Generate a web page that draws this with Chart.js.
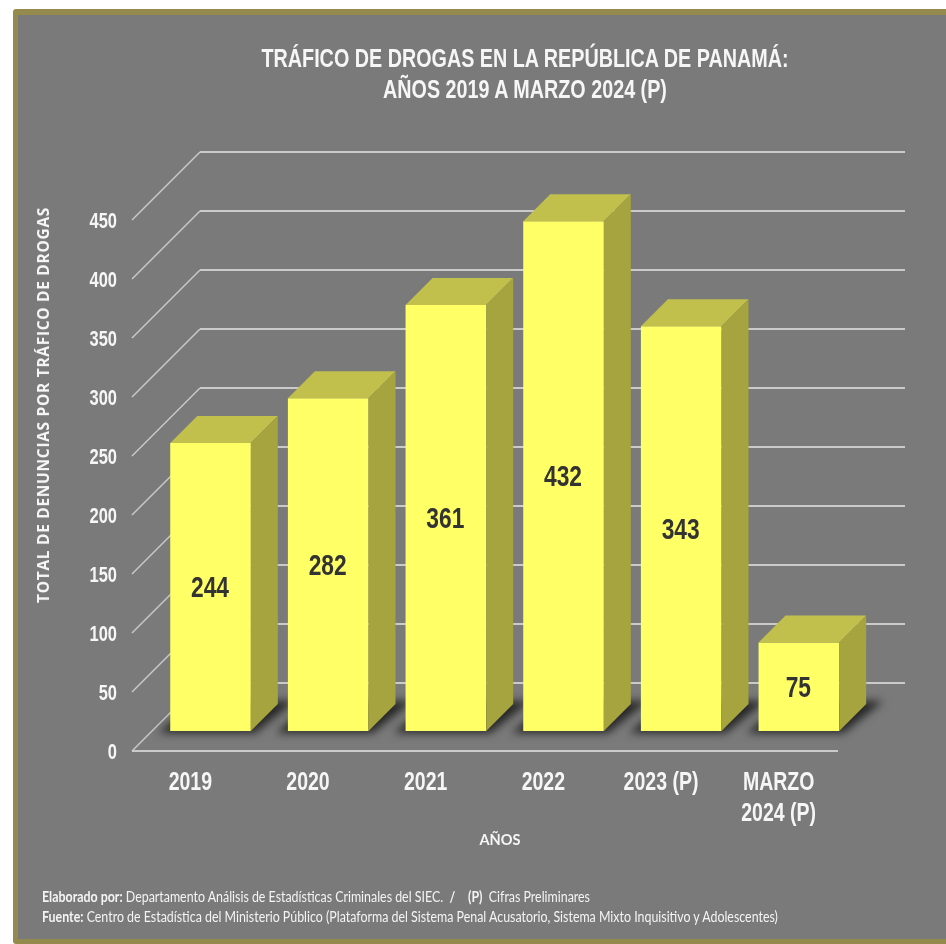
<!DOCTYPE html>
<html lang="es">
<head>
<meta charset="utf-8">
<title>Tráfico de drogas</title>
<script src="https://cdn.jsdelivr.net/npm/chart.js@4"></script>
<style>
    html, body { margin: 0; background: #fff; }
    #page { position: relative; width: 946px; height: 944px; overflow: hidden; }
    #panel { position: absolute; left: 13px; top: 9px; width: 960px; height: 924px; background: #7a7a7b; border: solid #958a4e; border-width: 6px 5px 5px 5px; border-radius: 3px; }
    canvas { position: absolute; left: 0; top: 0; }
    .txt { position: absolute; color: #f6f6f6; white-space: nowrap; }
    #title { left: 125px; width: 800px; top: 43px; text-align: center; font: bold 25px/31px "Liberation Sans", sans-serif; transform: scaleX(0.79); }
    #yTitle { left: 43px; top: 405px; transform: translate(-50%, -50%) rotate(-90deg); font: bold 15.5px "Open Sans", sans-serif; letter-spacing: 0.7px; }
    #xTitle { left: 500px; top: 839px; transform: translate(-50%, -50%) scaleX(0.97); font: bold 15px Lato, sans-serif; }
    .foot { left: 42px; font: 14.5px Lato, sans-serif; color: #f4f4f4; transform: scaleX(0.855); transform-origin: left center; }
    .foot b { font-weight: bold; }
</style>
</head>
<body>
<div id="page">
    <div id="panel"></div>
    <canvas id="drugChart" width="946" height="944"></canvas>
    <div class="txt" id="title">TRÁFICO DE DROGAS EN LA REPÚBLICA DE PANAMÁ:<br>AÑOS 2019 A MARZO 2024 (P)</div>
    <div class="txt" id="yTitle">TOTAL DE DENUNCIAS POR TRÁFICO DE DROGAS</div>
    <div class="txt" id="xTitle">AÑOS</div>
    <div class="txt foot" style="top:888px"><b>Elaborado por:</b> Departamento Análisis de Estadísticas Criminales del SIEC. &nbsp;<b>/</b> &nbsp; &nbsp;<b>(P)</b> &nbsp;Cifras Preliminares</div>
    <div class="txt foot" style="top:908px"><b>Fuente:</b> Centro de Estadística del Ministerio Público (Plataforma del Sistema Penal Acusatorio, Sistema Mixto Inquisitivo y Adolescentes)</div>
</div>
<script>
const categories = ['2019', '2020', '2021', '2022', '2023 (P)', ['MARZO', '2024 (P)']];
const denuncias = [244, 282, 361, 432, 343, 75];
const yTicks = [0, 50, 100, 150, 200, 250, 300, 350, 400, 450];

// Fake 3D look
const wall = { dx: 68, dy: -68, right: 905 };
const barShift = { x: 19.7, y: -20 };
const depth = 27;
const colors = {
    front: '#ffff66',
    top: '#c2c04c',
    side: '#a6a43f',
    grid: '#cacaca',
    shadow: '#262626',
    value: '#333333',
    tick: '#f6f6f6'
};

function poly(ctx, points, fill) {
    ctx.beginPath();
    points.forEach((p, i) => i ? ctx.lineTo(p[0], p[1]) : ctx.moveTo(p[0], p[1]));
    ctx.closePath();
    ctx.fillStyle = fill;
    ctx.fill();
}

// No narrow font installed, so squeeze Liberation Sans Bold horizontally
function narrowText(ctx, text, x, y, size, squeeze, align, color) {
    ctx.save();
    ctx.translate(x, y);
    ctx.scale(squeeze, 1);
    ctx.font = 'bold ' + size + 'px "Liberation Sans", sans-serif';
    ctx.textAlign = align;
    ctx.textBaseline = 'middle';
    ctx.fillStyle = color;
    ctx.fillText(text, 0, 0);
    ctx.restore();
}

const box3d = {
    id: 'box3d',
    beforeDatasetsDraw(chart) {
        const { ctx, scales: { y }, chartArea: area } = chart;
        ctx.save();
        // walls: one line per y tick
        ctx.strokeStyle = colors.grid;
        yTicks.forEach(v => {
            const py = y.getPixelForValue(v);
            ctx.lineWidth = 1.4;
            ctx.beginPath();
            ctx.moveTo(area.left, py);
            ctx.lineTo(area.left + wall.dx, py + wall.dy);
            ctx.stroke();
            ctx.lineWidth = 2;
            ctx.beginPath();
            ctx.moveTo(area.left + wall.dx, py + wall.dy);
            ctx.lineTo(wall.right, py + wall.dy);
            ctx.stroke();
        });
        // floor front edge
        ctx.lineWidth = 2;
        ctx.beginPath();
        ctx.moveTo(area.left, y.getPixelForValue(0));
        ctx.lineTo(area.right, y.getPixelForValue(0));
        ctx.stroke();
        // shadows on the floor
        ctx.filter = 'blur(4px)';
        chart.getDatasetMeta(0).data.forEach(bar => {
            const l = bar.x - bar.width / 2 + barShift.x;
            const r = bar.x + bar.width / 2 + barShift.x;
            const b = bar.base + barShift.y;
            poly(ctx, [[l - 12, b + 2], [r + 4, b + 2], [r + depth + 17, b - depth - 3], [l + depth, b - depth - 3]], colors.shadow);
        });
        ctx.restore();
        // bars sit back from the axis plane
        ctx.save();
        ctx.translate(barShift.x, barShift.y);
    },
    afterDatasetsDraw(chart) {
        const { ctx, scales: { x, y }, chartArea: area } = chart;
        ctx.restore();
        chart.getDatasetMeta(0).data.forEach((bar, i) => {
            const l = bar.x - bar.width / 2 + barShift.x;
            const r = bar.x + bar.width / 2 + barShift.x;
            const t = bar.y + barShift.y;
            const b = bar.base + barShift.y;
            poly(ctx, [[l, t], [r, t], [r + depth, t - depth], [l + depth, t - depth]], colors.top);
            poly(ctx, [[r, t], [r + depth, t - depth], [r + depth, b - depth], [r, b]], colors.side);
            narrowText(ctx, String(denuncias[i]), (l + r) / 2 - 0.5, (t + b) / 2 + 2, 30, 0.76, 'center', colors.value);
        });
        // axis labels, from the scales' own ticks
        y.ticks.forEach((tick, i) => {
            narrowText(ctx, tick.label, area.left - 15, y.getPixelForTick(i) + 1.5, 22, 0.75, 'right', colors.tick);
        });
        x.ticks.forEach((tick, i) => {
            [].concat(tick.label).forEach((line, n) => {
                narrowText(ctx, line, x.getPixelForTick(i) - 0.5, area.bottom + 32 + n * 31, 25, 0.78, 'center', colors.tick);
            });
        });
    }
};

new Chart(document.getElementById('drugChart'), {
    type: 'bar',
    data: {
        labels: categories,
        datasets: [{
            data: denuncias,
            backgroundColor: colors.front,
            borderWidth: 0,
            barPercentage: 0.685,
            categoryPercentage: 1,
            clip: false
        }]
    },
    options: {
        responsive: false,
        animation: false,
        layout: { padding: { left: 72, right: 108, top: 220, bottom: 63 } },
        plugins: {
            legend: { display: false },
            tooltip: { enabled: false }
        },
        scales: {
            x: {
                grid: { display: false },
                border: { display: false },
                afterFit: scale => { scale.height = 130; },
                ticks: { display: false }
            },
            y: {
                min: 0,
                max: 450,
                grid: { display: false },
                border: { display: false },
                afterFit: scale => { scale.width = 60; },
                ticks: { display: false, stepSize: 50 }
            }
        }
    },
    plugins: [box3d]
});
</script>
</body>
</html>
